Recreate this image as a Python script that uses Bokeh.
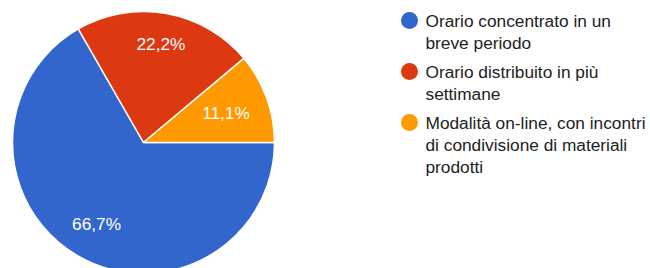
import math
from bokeh.plotting import figure
from bokeh.models import Range1d, ColumnDataSource
from bokeh.core.properties import value
from bokeh.embed import file_html
from bokeh.resources import INLINE

# ---- data ----
categories = [
    "Orario concentrato in un\nbreve periodo",
    "Orario distribuito in più\nsettimane",
    "Modalità on-line, con incontri\ndi condivisione di materiali\nprodotti",
]
percent = [66.7, 22.2, 11.1]
pct_labels = ["66,7%", "22,2%", "11,1%"]
colors = ["#3366cc", "#dc3912", "#ff9900"]

# ---- layout / style (pixels) ----
W, H = 650, 268
cx, cy_down, R = 143, 142, 131
cy = H - cy_down
FONT = "Liberation Sans"
FS = "17.3px"
label_radius = [0.715, 0.76, 0.67]   # label distance from centre, fraction of R

total = sum(percent)
starts, ends, lx, ly = [], [], [], []
a = 0.0
for v, f in zip(percent, label_radius):
    span = v / total * 2 * math.pi
    s, e = a - span, a
    starts.append(s)
    ends.append(e)
    mid = (s + e) / 2
    lx.append(cx + f * R * math.cos(mid))
    ly.append(cy + f * R * math.sin(mid))
    a -= span

p = figure(width=W, height=H, output_backend="svg", toolbar_location=None,
           x_range=Range1d(0, W), y_range=Range1d(0, H), min_border=0)
p.axis.visible = False
p.grid.visible = False
p.outline_line_color = None
p.background_fill_color = "white"
p.border_fill_color = "white"

pie = ColumnDataSource(dict(start=starts, end=ends, color=colors))
p.wedge(x=cx, y=cy, radius=R, radius_units="screen", start_angle="start", end_angle="end",
        fill_color="color", line_color="white", line_width=1.5, source=pie)

p.text(x=lx, y=ly, text=pct_labels, text_color="white", text_font=value(FONT),
       text_font_size=FS, text_align="center", text_baseline="middle")

# legend
leg_x_marker = 409
leg_x_text = 425
line_h = 22
item_gap = 7
ys = []
yy = H - 20
for c in categories:
    ys.append(yy)
    yy -= c.count("\n") * line_h + line_h + item_gap

p.scatter(x=[leg_x_marker] * 3, y=ys, size=17, marker="circle", fill_color=colors,
          line_color=None)
p.text(x=[leg_x_text] * 3, y=[y + 10 for y in ys], text=categories, text_color="#222222",
       text_font=value(FONT), text_font_size=FS, text_align="left", text_baseline="top",
       text_line_height=1.12)

open("out.html", "w").write(file_html(p, INLINE))
